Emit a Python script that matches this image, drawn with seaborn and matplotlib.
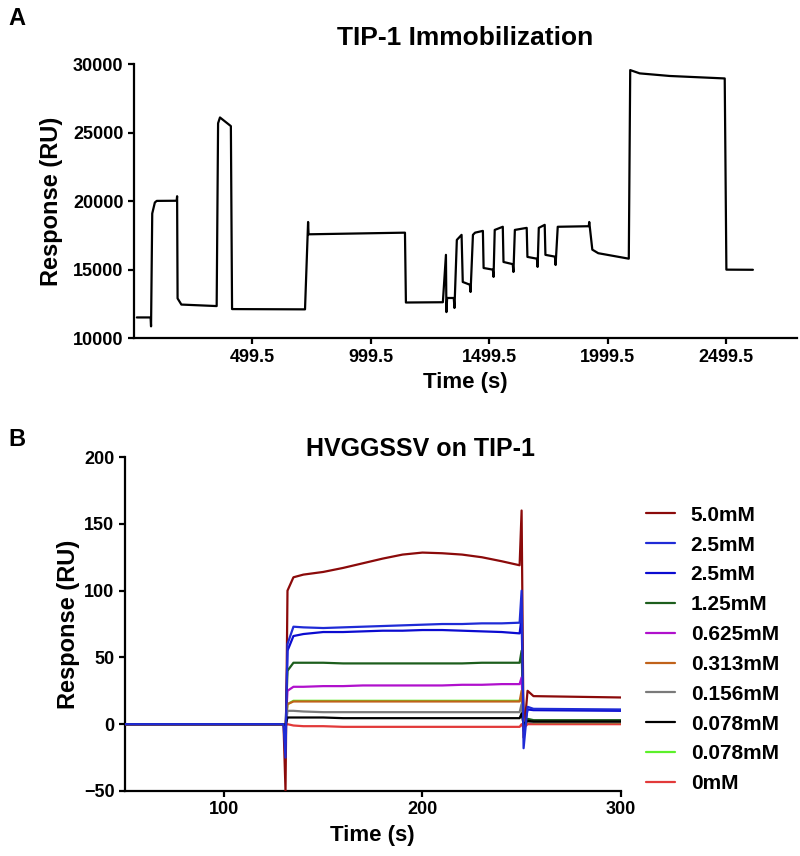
"""Two SPR sensorgram panels: TIP-1 immobilization and HVGGSSV binding on TIP-1."""
import matplotlib
matplotlib.use("Agg")
import matplotlib.pyplot as plt
import seaborn as sns

# Panel A: immobilization trace (time in s, response in RU)
imm_time = [12, 70, 72, 77, 88, 96, 180, 182, 184, 200, 349, 355, 363, 409, 414,
            722, 735, 737, 1144, 1148, 1304, 1317, 1319, 1322, 1350, 1353, 1363,
            1383, 1388, 1418, 1421, 1431, 1440, 1473, 1476, 1515, 1518, 1523, 1557,
            1560, 1599, 1602, 1608, 1658, 1661, 1701, 1704, 1709, 1734, 1737, 1777,
            1780, 1789, 1920, 1922, 1935, 1960, 2089, 2095, 2135, 2262, 2494, 2501,
            2613]
imm_resp = [11510, 11510, 10860, 19100, 19900, 20020, 20030, 20360, 12900, 12450,
            12340, 25690, 26110, 25480, 12120, 12100, 18480, 17580, 17700, 12600,
            12620, 16080, 11900, 12930, 12930, 12200, 17170, 17540, 14100, 13900,
            13370, 17540, 17700, 17830, 15120, 15000, 14470, 17900, 18130, 15560,
            15400, 14830, 17900, 18050, 15930, 15800, 15200, 18050, 18270, 16080,
            15950, 15340, 18130, 18170, 18480, 16460, 16200, 15800, 29570, 29330,
            29140, 28960, 15000, 14990]
imm_ticks = [499.5, 999.5, 1499.5, 1999.5, 2499.5]
imm_tick_labels = ["499.5", "999.5", "1499.5", "1999.5", "2499.5"]

# Panel B: binding sensorgrams, one value list per concentration on a shared time grid
bind_time = [50, 130, 131, 132, 135, 140, 150, 160, 170, 180, 190, 200, 210, 220,
             230, 240, 249, 250, 251, 253, 256, 300]
conc_labels = ["5.0mM", "2.5mM", "2.5mM", "1.25mM", "0.625mM",
               "0.313mM", "0.156mM", "0.078mM", "0.078mM", "0mM"]
conc_colors = ["#8b0a0a", "#1f2bd6", "#0b0bd0", "#1d5e1d", "#b010cc",
               "#c0621a", "#7a7a7a", "#000000", "#5cf02a", "#e23a3a"]
resp_50 = [0, 0, -50, 100, 110, 112, 114, 117, 120.5, 124, 127, 128.5, 128, 127,
           125, 122, 119, 160, -10, 25, 21, 20]
resp_25a = [0, 0, -25, 60, 73, 72.5, 72, 72.5, 73, 73.5, 74, 74.5, 75, 75,
            75.5, 75.5, 76, 100, -18, 13, 11.5, 11]
resp_25b = [0, 0, -10, 55, 66, 67.5, 69, 69, 69.5, 70, 70, 70.5, 70.5, 70,
            69.5, 69, 68, 80, -5, 11, 10.5, 10]
resp_125 = [0, 0, -5, 40, 46, 46, 46, 45.5, 45.5, 45.5, 45.5, 45.5, 45.5, 45.5,
            46, 46, 46, 55, 0, 4, 3, 3]
resp_0625 = [0, 0, -3, 25, 28, 28, 28.5, 28.5, 29, 29, 29, 29, 29, 29.5,
             29.5, 30, 30, 35, 0, 2, 1, 1]
resp_0313 = [0, 0, -2, 15, 17, 17, 17, 17, 17, 17, 17, 17, 17, 17,
             17, 17, 17, 25, 0, 2, 1, 1]
resp_0156 = [0, 0, -2, 10, 10, 9.5, 9, 9, 9, 9, 9, 9, 9, 9,
             9, 9, 9, 15, 0, 2, 1.5, 1.5]
resp_0078a = [0, 0, -1, 5, 5, 5, 5, 4.5, 4.5, 4.5, 4.5, 4.5, 4.5, 4.5,
              4.5, 4.5, 4.5, 8, 0, 2.5, 2, 2]
resp_0078b = [0, 0, -2, 15, 17.5, 17.5, 17.5, 17.5, 17.5, 17.5, 17.5, 17.5, 17.5, 17.5,
              17.5, 17.5, 17.5, 20, 0, 1, 0.5, 0.5]
resp_0 = [0, 0, -1, 0, -1, -1.5, -1.5, -2, -2, -2, -2, -2, -2, -2,
          -2, -2, -2, 0, -3, 0, 0, 0]
bind_resp = [resp_50, resp_25a, resp_25b, resp_125, resp_0625,
             resp_0313, resp_0156, resp_0078a, resp_0078b, resp_0]
draw_order = [5, 9, 0, 3, 4, 6, 7, 8, 1, 2]  # zorder, blues end up on top

sns.set_theme(style="ticks")
plt.rcParams["font.family"] = ["Liberation Sans", "DejaVu Sans"]
plt.rcParams["font.weight"] = "bold"
plt.rcParams["axes.labelweight"] = "bold"
plt.rcParams["axes.linewidth"] = 1.6
plt.rcParams["xtick.major.width"] = 1.6
plt.rcParams["ytick.major.width"] = 1.6
plt.rcParams["xtick.major.size"] = 4
plt.rcParams["ytick.major.size"] = 4
plt.rcParams["xtick.color"] = "black"
plt.rcParams["ytick.color"] = "black"
plt.rcParams["axes.edgecolor"] = "black"
plt.rcParams["axes.labelcolor"] = "black"
plt.rcParams["text.color"] = "black"

fig = plt.figure(figsize=(8, 8.56), dpi=100)
ax1 = fig.add_axes([0.1675, 0.605, 0.829, 0.320])
ax2 = fig.add_axes([0.156, 0.076, 0.620, 0.390])

# Panel A
sns.lineplot(x=imm_time, y=imm_resp, ax=ax1, color="black", linewidth=1.6,
             sort=False, estimator=None)
ax1.set_xlim(0, 2800)
ax1.set_ylim(10000, 30000)
ax1.set_xticks(imm_ticks, imm_tick_labels)
ax1.set_yticks([10000, 15000, 20000, 25000, 30000])
ax1.tick_params(labelsize=13)
ax1.set_xlabel("Time (s)", fontsize=16, labelpad=5)
ax1.set_ylabel("Response (RU)", fontsize=17, labelpad=7)
ax1.set_title("TIP-1 Immobilization", fontsize=19, fontweight="bold", pad=14)

# Panel B
for i in range(len(bind_resp)):
    sns.lineplot(x=bind_time, y=bind_resp[i], ax=ax2, color=conc_colors[i],
                 linewidth=1.6, label=conc_labels[i], sort=False, estimator=None,
                 zorder=draw_order[i])
ax2.set_xlim(50, 300)
ax2.set_ylim(-50, 200)
ax2.set_xticks([100, 200, 300])
ax2.set_yticks([-50, 0, 50, 100, 150, 200])
ax2.tick_params(labelsize=13)
ax2.set_xlabel("Time (s)", fontsize=16, labelpad=5)
ax2.set_ylabel("Response (RU)", fontsize=17, labelpad=3)
ax2.legend(loc="upper left", bbox_to_anchor=(0.797, 0.419), bbox_transform=fig.transFigure,
           frameon=False, fontsize=15, handlelength=1.4, handletextpad=0.75,
           labelspacing=0.52, borderaxespad=0)
fig.text(0.525, 0.476, "HVGGSSV on TIP-1", fontsize=18, fontweight="bold",
         ha="center", va="center")

sns.despine(fig=fig)
fig.text(0.01, 0.978, "A", fontsize=17, fontweight="bold", va="center")
fig.text(0.01, 0.487, "B", fontsize=17, fontweight="bold", va="center")

fig.savefig("out.png", dpi=100)
